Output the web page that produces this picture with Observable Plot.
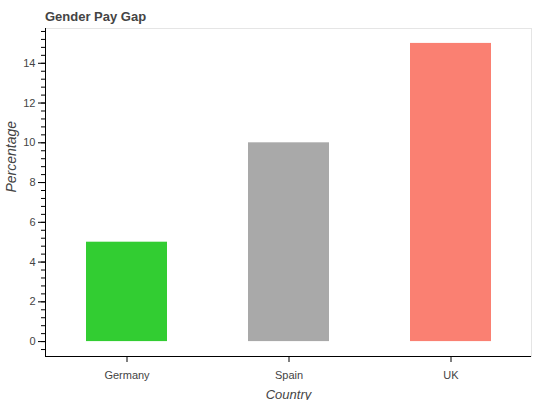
<!DOCTYPE html>
<html>
<head>
<script src="https://cdn.jsdelivr.net/npm/d3@7"></script>
<script src="https://cdn.jsdelivr.net/npm/@observablehq/plot@0.6"></script>
<style>
  body { margin: 0; background: #fff; font-family: Arial, "Liberation Sans", sans-serif; }
  #wrap { position: relative; width: 537px; height: 400px; }
  #title { position: absolute; left: 45px; top: 9px; font-size: 13px; font-weight: bold; color: #444; }
</style>
</head>
<body>
<div id="wrap"><div id="title">Gender Pay Gap</div><div id="chart"></div></div>
<script>
const countries = ["Germany", "Spain", "UK"];
const gaps = [5, 10, 15];
const colors = ["#32CD32", "#A9A9A9", "#FA8072"];
const yTicks = [0, 2, 4, 6, 8, 10, 12, 14];
const yMinor = d3.range(-0.4, 15.7, 0.4).map(v => +v.toFixed(1));

const data = countries.map((c, i) => ({ country: c, gap: gaps[i], color: colors[i] }));

const plot = Plot.plot({
  width: 537,
  height: 400,
  marginLeft: 45,
  marginRight: 6,
  marginTop: 28,
  marginBottom: 44,
  style: { fontFamily: "Arial, 'Liberation Sans', sans-serif", fontSize: "11px", color: "#444" },
  x: { domain: countries, paddingInner: 0.5, paddingOuter: 0.25, label: null },
  y: { domain: [-0.75, 15.75], label: null },
  marks: [
    Plot.frame({ stroke: "#e5e5e5" }),
    Plot.barY(data, { x: "country", y: "gap", fill: "color" }),
    Plot.axisY(yMinor, { tickSize: 4, text: null, stroke: "#000" }),
    Plot.axisY(yTicks, { tickSize: 7, tickPadding: 3, stroke: "#000", fill: "#444" }),
    Plot.axisX({ tickSize: 6, tickPadding: 9, stroke: "#000", fill: "#444" }),
    Plot.ruleY([-0.75], { stroke: "#000" }),
    Plot.text(["Country"], { frameAnchor: "bottom", dy: 42, fontSize: 13, fontStyle: "italic", fill: "#444" }),
    Plot.text(["Percentage"], { frameAnchor: "left", dx: -34, rotate: -90, fontSize: 14, fontStyle: "italic", fill: "#444" })
  ]
});

// left axis line
d3.select(plot).append("line")
  .attr("x1", 45.5).attr("x2", 45.5)
  .attr("y1", 28).attr("y2", 356)
  .attr("stroke", "#000");

document.getElementById("chart").append(plot);
</script>
</body>
</html>
